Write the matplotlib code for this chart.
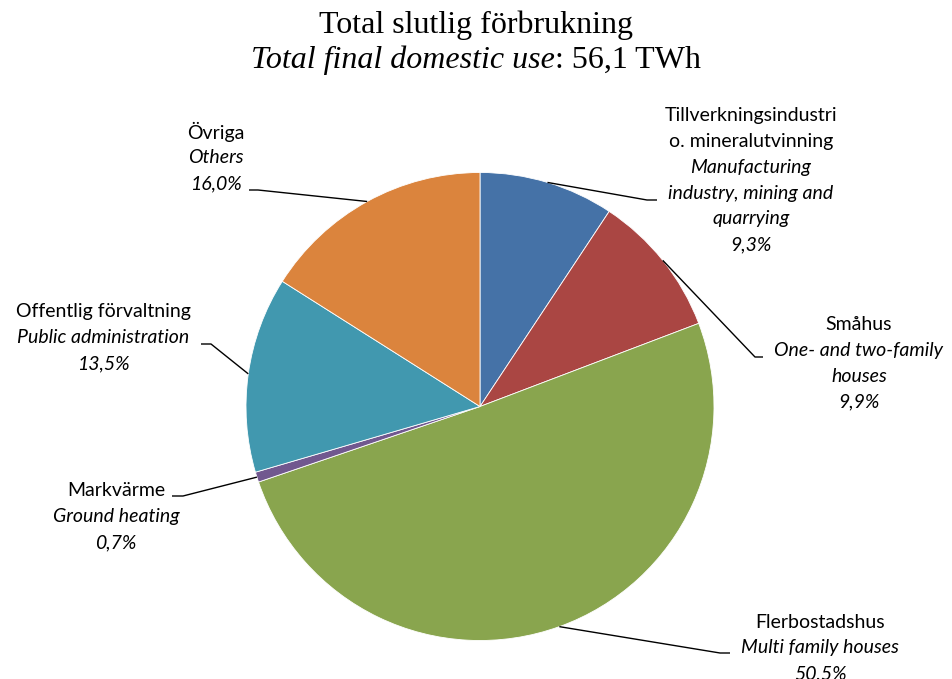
import numpy as np
import matplotlib
matplotlib.use("Agg")
import matplotlib.pyplot as plt

# ---------------- Data ----------------
names_sv = [
    "Tillverkningsindustri\no. mineralutvinning",
    "Småhus",
    "Flerbostadshus",
    "Markvärme",
    "Offentlig förvaltning",
    "Övriga",
]
names_en = [
    "Manufacturing\nindustry, mining and\nquarrying",
    "One- and two-family\nhouses",
    "Multi family houses",
    "Ground heating",
    "Public administration",
    "Others",
]
shares = [9.3, 9.9, 50.5, 0.7, 13.5, 16.0]
colors = ["#4572A7", "#AA4643", "#89A54E", "#71588F", "#4198AF", "#DB843D"]

title_sv = "Total slutlig förbrukning"
title_en = "Total final domestic use"
title_total = ": 56,1 TWh"

# ---------------- Layout (image pixels, y from top) ----------------
W, H = 952, 679
PIE_C = (480, 406.5)
PIE_R = 234
# text center x, first-line center y
label_pos = [(751, 116), (859, 325), (820, 622), (116, 491), (103, 312), (216, 132)]
# tick: far x, near x, y
ticks = [(647, 657, 200), (755, 763, 357), (720, 730, 653),
         (183, 172, 496), (211, 201, 344), (258, 249, 190)]
LINE_H = 25.7

FONT = "Lato"
SERIF = "Liberation Serif"


def fy(y):
    return H - y


fig = plt.figure(figsize=(W / 100, H / 100), dpi=100)
ax = fig.add_axes([0, 0, 1, 1])

wedges, _ = ax.pie(
    shares, colors=colors, startangle=90, counterclock=False,
    center=(PIE_C[0], fy(PIE_C[1])), radius=PIE_R,
    wedgeprops=dict(edgecolor="white", linewidth=0.6),
)
ax.set_xlim(0, W)
ax.set_ylim(0, H)
ax.set_aspect("equal")
ax.axis("off")

for i, w in enumerate(wedges):
    mid = np.deg2rad((w.theta1 + w.theta2) / 2)
    px = PIE_C[0] + PIE_R * np.cos(mid)
    py = fy(PIE_C[1]) + PIE_R * np.sin(mid)
    x_far, x_near, ty = ticks[i]
    ax.plot([px, x_far, x_near], [py, fy(ty), fy(ty)], color="black", lw=1.0,
            solid_capstyle="butt")

    pct = f"{shares[i]:.1f}".replace(".", ",") + "%"
    lines = [(s, "normal") for s in names_sv[i].split("\n")]
    lines += [(s, "italic") for s in names_en[i].split("\n")]
    lines += [(pct, "italic")]
    cx, cy = label_pos[i]
    for k, (s, style) in enumerate(lines):
        ax.text(cx, fy(cy + k * LINE_H), s, ha="center", va="center",
                fontsize=14, family=FONT, style=style, color="black")

# ---------------- Title ----------------
fig.text(0.5, 1 - 25 / H, title_sv, ha="center", va="center",
         fontsize=23, family=SERIF)
t_it = fig.text(0, 1 - 60 / H, title_en, ha="left", va="center",
                fontsize=23, family=SERIF, style="italic")
t_rm = fig.text(0, 1 - 60 / H, title_total, ha="left", va="center",
                fontsize=23, family=SERIF)
r = fig.canvas.get_renderer()
w1 = t_it.get_window_extent(r).width
w2 = t_rm.get_window_extent(r).width
x0 = (W - (w1 + w2)) / 2
t_it.set_x(x0 / W)
t_rm.set_x((x0 + w1) / W)

fig.savefig("out.png", dpi=100)
